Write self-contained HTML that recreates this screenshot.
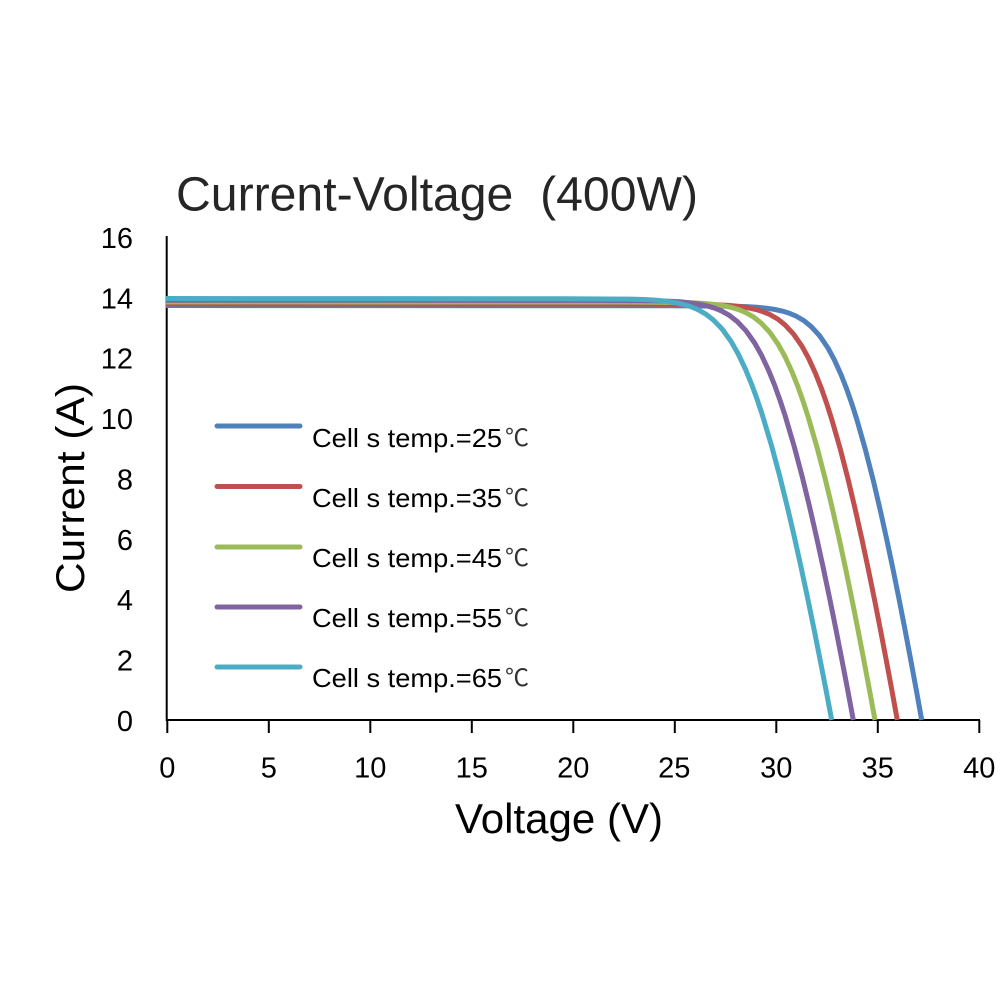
<!DOCTYPE html>
<html><head><meta charset="utf-8"><style>
html,body{margin:0;padding:0;background:#fff;}
svg{display:block;}
</style></head><body>
<svg width="1000" height="1000" viewBox="0 0 1000 1000" xmlns="http://www.w3.org/2000/svg">
<rect width="1000" height="1000" fill="#fff"/>
<defs>
<clipPath id="pc"><rect x="166" y="200" width="820" height="530"/></clipPath>
</defs>
<text x="176" y="210.5" font-family="'Liberation Sans','Noto Sans CJK SC',sans-serif" font-size="48" fill="#262626" textLength="522" lengthAdjust="spacingAndGlyphs">Current-Voltage&#160; (400W)</text>
<g font-family="'Liberation Sans',sans-serif" font-size="29" fill="#000" text-anchor="end">
<text x="133" y="731">0</text>
<text x="133" y="670.6">2</text>
<text x="133" y="610.2">4</text>
<text x="133" y="549.8">6</text>
<text x="133" y="489.4">8</text>
<text x="133" y="429">10</text>
<text x="133" y="368.6">12</text>
<text x="133" y="308.3">14</text>
<text x="133" y="248">16</text>
</g>
<g font-family="'Liberation Sans',sans-serif" font-size="29" fill="#000" text-anchor="middle">
<text x="167.3" y="777.5">0</text>
<text x="268.8" y="777.5">5</text>
<text x="370.3" y="777.5">10</text>
<text x="471.8" y="777.5">15</text>
<text x="573.3" y="777.5">20</text>
<text x="674.3" y="777.5">25</text>
<text x="776.3" y="777.5">30</text>
<text x="877.8" y="777.5">35</text>
<text x="979.3" y="777.5">40</text>
</g>
<text x="455" y="833" font-family="'Liberation Sans',sans-serif" font-size="42" fill="#000" textLength="208" lengthAdjust="spacingAndGlyphs">Voltage (V)</text>
<text transform="translate(84,593) rotate(-90)" x="0" y="0" font-family="'Liberation Sans',sans-serif" font-size="40" fill="#000" textLength="210" lengthAdjust="spacingAndGlyphs">Current (A)</text>
<g stroke="#000" stroke-width="2" fill="none">
<line x1="166.7" y1="236" x2="166.7" y2="721"/>
<line x1="166" y1="720" x2="980" y2="720"/>
<line x1="167.3" y1="720" x2="167.3" y2="733"/>
<line x1="268.8" y1="720" x2="268.8" y2="733"/>
<line x1="370.3" y1="720" x2="370.3" y2="733"/>
<line x1="471.8" y1="720" x2="471.8" y2="733"/>
<line x1="573.3" y1="720" x2="573.3" y2="733"/>
<line x1="674.8" y1="720" x2="674.8" y2="733"/>
<line x1="776.3" y1="720" x2="776.3" y2="733"/>
<line x1="877.8" y1="720" x2="877.8" y2="733"/>
<line x1="979.3" y1="720" x2="979.3" y2="733"/>
</g>
<g clip-path="url(#pc)" fill="none" stroke-width="5" stroke-linejoin="round" stroke-linecap="butt">
<polyline transform="translate(921.7,720) scale(0.97,0.994)" vector-effect="non-scaling-stroke" stroke="#4F81BD" points="0,0 -5.58,-30.2 -11.31,-60.4 -17.15,-90.6 -23.18,-120.8 -29.44,-151 -35.95,-181.2 -42.79,-211.4 -50.08,-241.6 -57.98,-271.8 -66.79,-302 -71.68,-317.1 -77.04,-332.2 -83.07,-347.3 -90.07,-362.4 -96.79,-374.5 -105.26,-386.6 -113.7,-395.6 -121.35,-401.7 -129.21,-406.2 -136.44,-409.2 -143.4,-411.3 -151.86,-413.1 -160.25,-414.3 -169.91,-415.3 -180.37,-415.9 -194.49,-416.3 -260,-416.7 -900,-417"/>
<polyline transform="translate(897.3,720) scale(0.985,0.998)" vector-effect="non-scaling-stroke" stroke="#C0504D" points="0,0 -5.58,-30.2 -11.31,-60.4 -17.15,-90.6 -23.18,-120.8 -29.44,-151 -35.95,-181.2 -42.79,-211.4 -50.08,-241.6 -57.98,-271.8 -66.79,-302 -71.68,-317.1 -77.04,-332.2 -83.07,-347.3 -90.07,-362.4 -96.79,-374.5 -105.26,-386.6 -113.7,-395.6 -121.35,-401.7 -129.21,-406.2 -136.44,-409.2 -143.4,-411.3 -151.86,-413.1 -160.25,-414.3 -169.91,-415.3 -180.37,-415.9 -194.49,-416.3 -260,-416.7 -900,-417"/>
<polyline transform="translate(875,720) scale(1.0,1.003)" vector-effect="non-scaling-stroke" stroke="#9BBB59" points="0,0 -5.58,-30.2 -11.31,-60.4 -17.15,-90.6 -23.18,-120.8 -29.44,-151 -35.95,-181.2 -42.79,-211.4 -50.08,-241.6 -57.98,-271.8 -66.79,-302 -71.68,-317.1 -77.04,-332.2 -83.07,-347.3 -90.07,-362.4 -96.79,-374.5 -105.26,-386.6 -113.7,-395.6 -121.35,-401.7 -129.21,-406.2 -136.44,-409.2 -143.4,-411.3 -151.86,-413.1 -160.25,-414.3 -169.91,-415.3 -180.37,-415.9 -194.49,-416.3 -260,-416.7 -900,-417"/>
<polyline transform="translate(853.3,720) scale(1.02,1.007)" vector-effect="non-scaling-stroke" stroke="#8064A2" points="0,0 -5.58,-30.2 -11.31,-60.4 -17.15,-90.6 -23.18,-120.8 -29.44,-151 -35.95,-181.2 -42.79,-211.4 -50.08,-241.6 -57.98,-271.8 -66.79,-302 -71.68,-317.1 -77.04,-332.2 -83.07,-347.3 -90.07,-362.4 -96.79,-374.5 -105.26,-386.6 -113.7,-395.6 -121.35,-401.7 -129.21,-406.2 -136.44,-409.2 -143.4,-411.3 -151.86,-413.1 -160.25,-414.3 -169.91,-415.3 -180.37,-415.9 -194.49,-416.3 -260,-416.7 -900,-417"/>
<polyline transform="translate(831.7,720) scale(1.04,1.011)" vector-effect="non-scaling-stroke" stroke="#4BACC6" points="0,0 -5.58,-30.2 -11.31,-60.4 -17.15,-90.6 -23.18,-120.8 -29.44,-151 -35.95,-181.2 -42.79,-211.4 -50.08,-241.6 -57.98,-271.8 -66.79,-302 -71.68,-317.1 -77.04,-332.2 -83.07,-347.3 -90.07,-362.4 -96.79,-374.5 -105.26,-386.6 -113.7,-395.6 -121.35,-401.7 -129.21,-406.2 -136.44,-409.2 -143.4,-411.3 -151.86,-413.1 -160.25,-414.3 -169.91,-415.3 -180.37,-415.9 -194.49,-416.3 -260,-416.7 -900,-417"/>
</g>
<g stroke-width="5" stroke-linecap="round">
<line x1="217" y1="426" x2="300" y2="426" stroke="#4F81BD"/>
<line x1="217" y1="486.5" x2="300" y2="486.5" stroke="#C0504D"/>
<line x1="217" y1="547" x2="300" y2="547" stroke="#9BBB59"/>
<line x1="217" y1="607" x2="300" y2="607" stroke="#8064A2"/>
<line x1="217" y1="667" x2="300" y2="667" stroke="#4BACC6"/>
</g>
<g font-family="'Liberation Sans',sans-serif" font-size="26" fill="#000">
<text x="312" y="447" textLength="190" lengthAdjust="spacingAndGlyphs">Cell s temp.=25</text>
<text x="312" y="507" textLength="190" lengthAdjust="spacingAndGlyphs">Cell s temp.=35</text>
<text x="312" y="567" textLength="190" lengthAdjust="spacingAndGlyphs">Cell s temp.=45</text>
<text x="312" y="627" textLength="190" lengthAdjust="spacingAndGlyphs">Cell s temp.=55</text>
<text x="312" y="687" textLength="190" lengthAdjust="spacingAndGlyphs">Cell s temp.=65</text>
</g>
<g font-family="'Noto Sans CJK SC','WenQuanYi Zen Hei',sans-serif" font-size="24" fill="#333">
<text x="505" y="446">℃</text>
<text x="505" y="506">℃</text>
<text x="505" y="566">℃</text>
<text x="505" y="626">℃</text>
<text x="505" y="686">℃</text>
</g>
</svg>
</body></html>
